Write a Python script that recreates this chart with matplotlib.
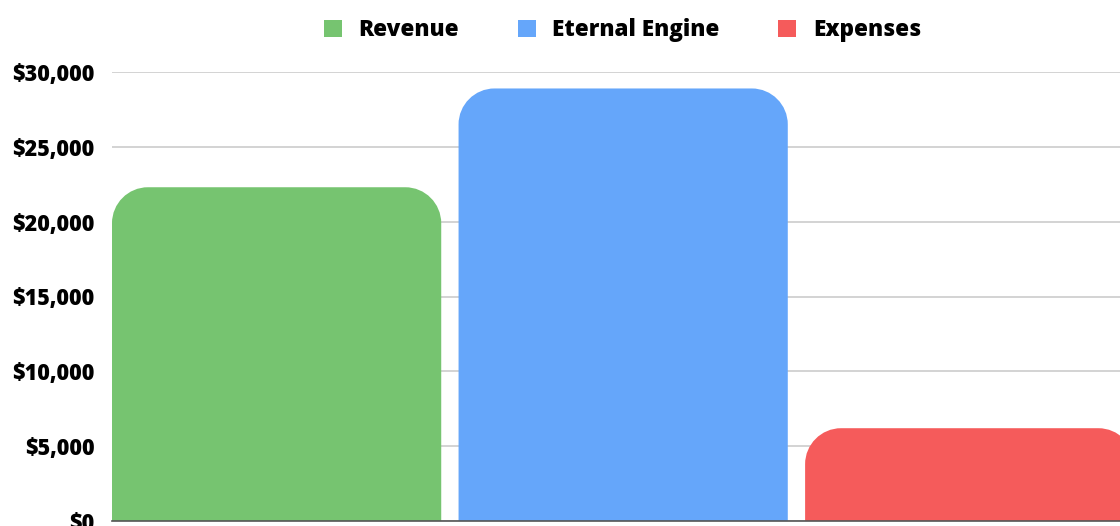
import matplotlib
matplotlib.use("Agg")
import matplotlib.pyplot as plt
from matplotlib.path import Path
from matplotlib.patches import PathPatch, Patch
from matplotlib.ticker import FuncFormatter

categories = ["Revenue", "Eternal Engine", "Expenses"]
values = [22300, 28900, 6200]
colors = ["#76C470", "#65A6FA", "#F55B5B"]
yticks = [0, 5000, 10000, 15000, 20000, 25000, 30000]

plt.rcParams['font.family'] = ['Open Sans', 'DejaVu Sans']
plt.rcParams['font.weight'] = 'bold'

W, H = 1120, 526
fig = plt.figure(figsize=(W / 100, H / 100), dpi=100)
ax = fig.add_axes([112 / W, 1 - 521 / H, (1143 - 112) / W, (521 - 72) / H])
ax.set_xlim(-0.475, 2.5)
ax.set_ylim(0, 30000)

bars = ax.bar(range(len(values)), values, width=0.95, color=colors)

ax_w_px = 1143 - 112
ax_h_px = 521 - 72
r_px = 36
rx = r_px * (2.975) / ax_w_px
ry = r_px * 30000 / ax_h_px
k = 0.5523
for b, c in zip(bars, colors):
    x0, w, h = b.get_x(), b.get_width(), b.get_height()
    x1 = x0 + w
    verts = [
        (x0, 0), (x0, h - ry),
        (x0, h - ry + k * ry), (x0 + rx - k * rx, h), (x0 + rx, h),
        (x1 - rx, h),
        (x1 - rx + k * rx, h), (x1, h - ry + k * ry), (x1, h - ry),
        (x1, 0), (x0, 0),
    ]
    codes = [Path.MOVETO, Path.LINETO,
             Path.CURVE4, Path.CURVE4, Path.CURVE4,
             Path.LINETO,
             Path.CURVE4, Path.CURVE4, Path.CURVE4,
             Path.LINETO, Path.CLOSEPOLY]
    b.set_visible(False)
    ax.add_patch(PathPatch(Path(verts, codes), facecolor=c, edgecolor='none', zorder=3))

ax.set_yticks(yticks)
ax.yaxis.set_major_formatter(FuncFormatter(lambda v, p: f"${int(v):,}"))
ax.tick_params(axis='y', length=0, pad=12.5, labelsize=15.5)
ax.set_xticks([])
for lbl in ax.get_yticklabels():
    lbl.set_fontweight(800)
ax.grid(axis='y', color='#CCCCCC', linewidth=1.2, zorder=0)
ax.set_axisbelow(True)
for s in ['top', 'right', 'left']:
    ax.spines[s].set_visible(False)
ax.spines['bottom'].set_color('#555555')
ax.spines['bottom'].set_linewidth(1.2)
ax.spines['bottom'].set_zorder(4)

handles = [Patch(facecolor=c, edgecolor='none', label=l) for c, l in zip(colors, categories)]
leg = fig.legend(handles=handles, loc='center', bbox_to_anchor=(622.5 / W, 1 - 30 / H),
                 ncol=3, frameon=False, fontsize=16.2, handlelength=0.8, handleheight=0.8,
                 handletextpad=0.75, columnspacing=2.6)
for t in leg.get_texts():
    t.set_fontweight(800)

fig.savefig("out.png", dpi=100)
